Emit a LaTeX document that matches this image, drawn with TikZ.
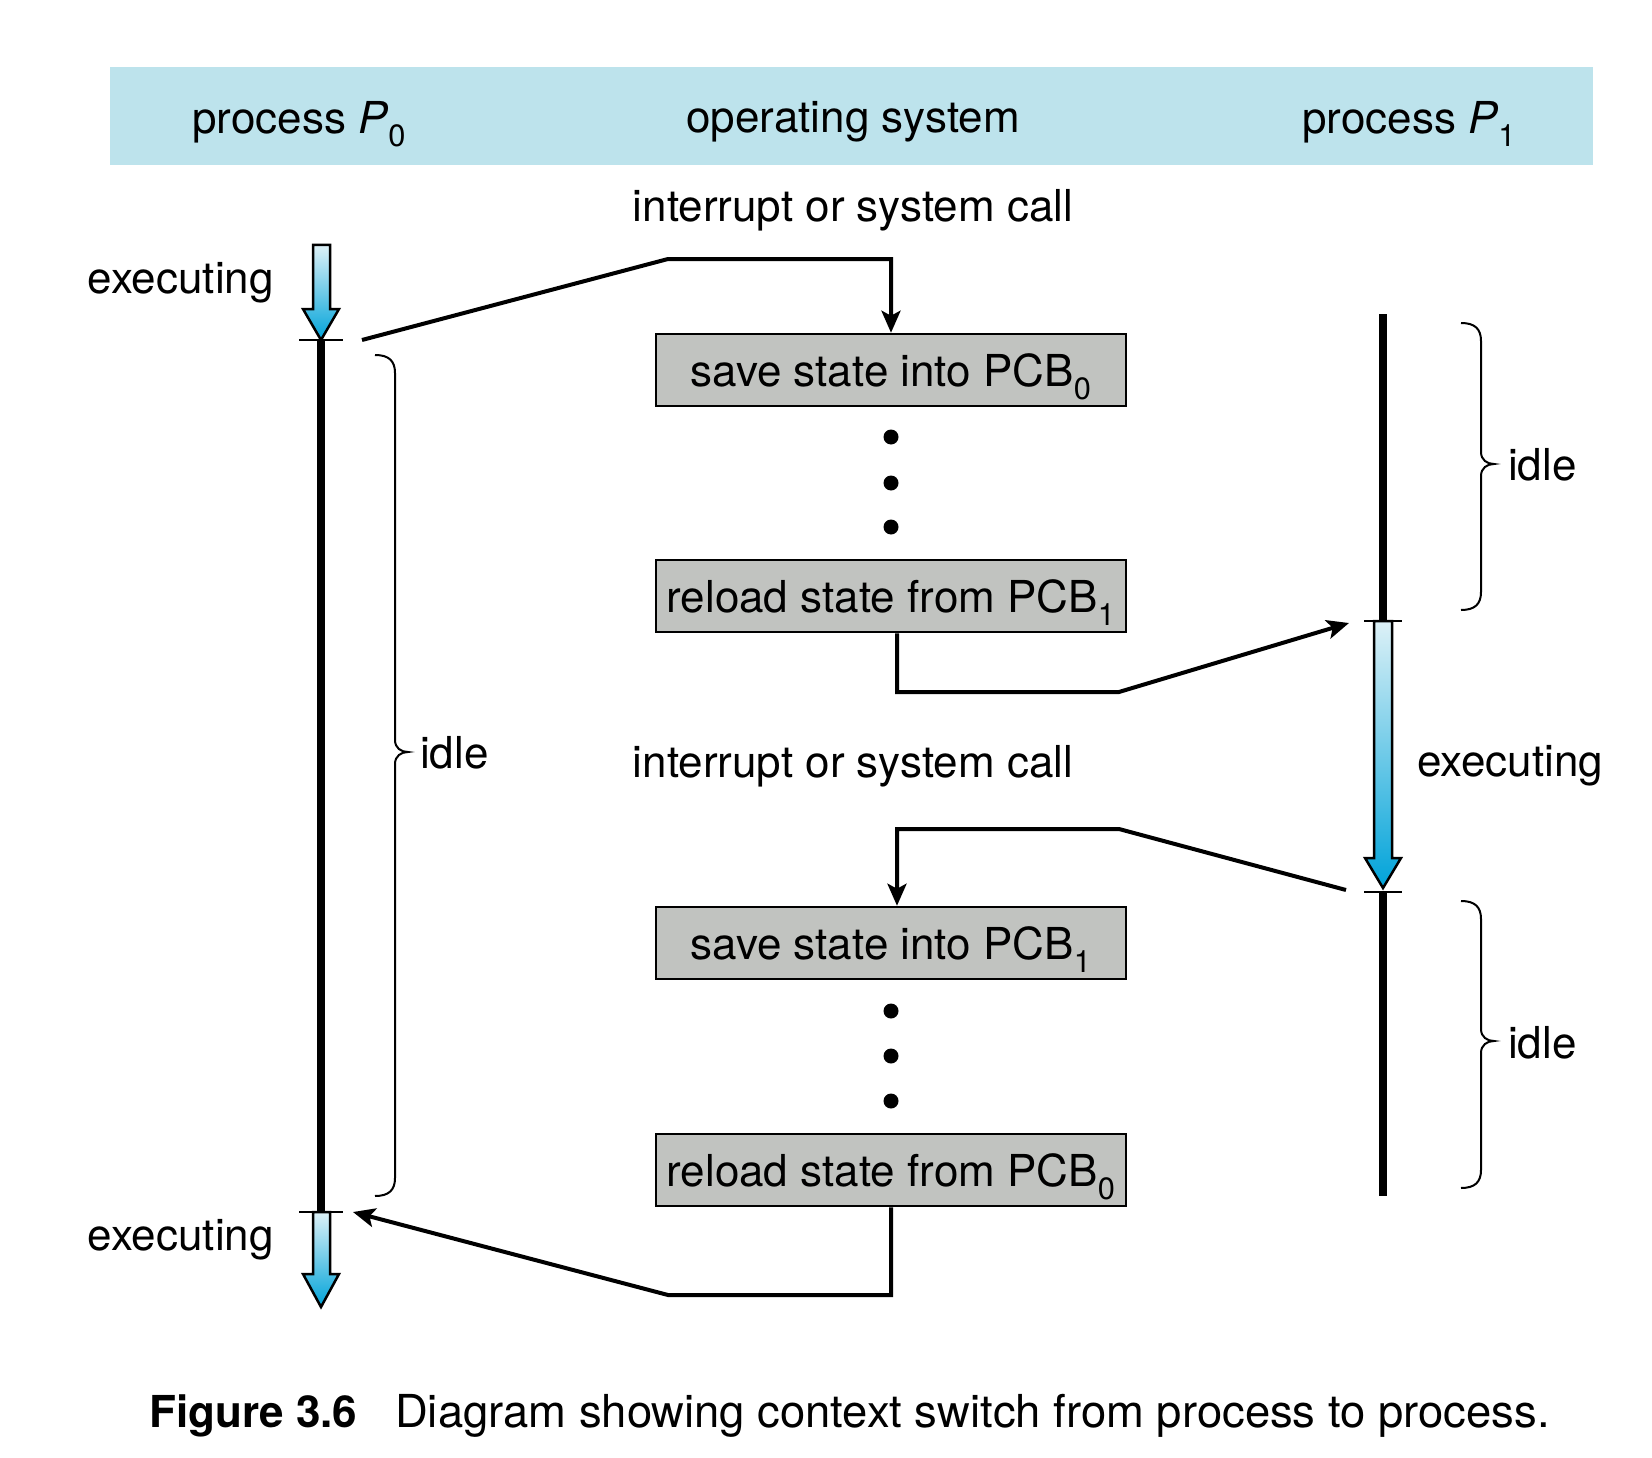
\documentclass[tikz,border=0pt]{standalone}
\usepackage{fontspec}
\setmainfont{TeX Gyre Heros}
\usetikzlibrary{arrows.meta}
\definecolor{hdr}{HTML}{BDE3EC}
\definecolor{boxg}{HTML}{C1C3C0}
\definecolor{blueL}{HTML}{DDF1F7}
\definecolor{blueD}{HTML}{00A3D9}
\newcommand{\mybrace}[5]{% x-end, x-line, ytop, ybottom, ytip ; tip at x-line+13
  \draw[brace] (#1,#3) .. controls (#2-6,#3) and (#2,#3+6) .. (#2,#3+18)
    -- (#2,#5-12) .. controls (#2,#5-4) and (#2+6,#5) .. (#2+13,#5)
    .. controls (#2+6,#5) and (#2,#5+4) .. (#2,#5+12)
    -- (#2,#4-18) .. controls (#2,#4-6) and (#2-6,#4) .. (#1,#4);}
\begin{document}
\begin{tikzpicture}[x=1pt,y=-1pt,
  font=\fontsize{44}{52}\selectfont,
  box/.style={draw, line width=2.5pt, fill=boxg, minimum width=470pt, minimum height=72pt, inner sep=0pt, text height=32pt, text depth=0pt},
  conn/.style={line width=4pt, -{Stealth[length=22pt,width=19pt,inset=5pt]}},
  bar/.style={line width=8pt},
  tickmark/.style={line width=2.5pt},
  brace/.style={line width=2pt},
  bluearrow/.style={draw, line width=2.5pt, top color=blueL, bottom color=blueD, line join=miter},
  lbl/.style={inner sep=0pt}]
\useasboundingbox (0,0) rectangle (1652,1458);
% header
\fill[hdr] (110,67) rectangle (1593,165);
\node[lbl, anchor=west] (h0) at (192,124) {process \textit{P}\textsubscript{0}};
\node[lbl, anchor=west] (hos) at (686,122) {operating system};
\node[lbl, anchor=west] (h1) at (1302,124) {process \textit{P}\textsubscript{1}};
% texts
\node[lbl] (irq1) at (853,210) {interrupt or system call};
\node[lbl] (irq2) at (853,766) {interrupt or system call};
\node[lbl, anchor=east] (ex1) at (274,283) {executing};
\node[lbl, anchor=east] (ex2) at (274,1240) {executing};
\node[lbl, anchor=west] (ex3) at (1417,766) {executing};
\node[lbl, anchor=west] (idle0) at (420,753) {idle};
\node[lbl, anchor=west] (idle1) at (1508,465) {idle};
\node[lbl, anchor=west] (idle2) at (1508,1043) {idle};
% boxes
\node[box] (s0) at (891,370) {save state into PCB\textsubscript{0}};
\node[box] (r1) at (891,596) {reload state from PCB\textsubscript{1}};
\node[box] (s1) at (891,943) {save state into PCB\textsubscript{1}};
\node[box] (r0) at (891,1170) {reload state from PCB\textsubscript{0}};
% dots
\foreach \y in {437,483,527,1011,1056,1101} \fill (891,\y) circle (7.5pt);
% P0 timeline
\draw[bar] (321,340) -- (321,1212);
\draw[bluearrow] (313,245) -- (330,245) -- (330,309) -- (339,309) -- (321,340) -- (303,309) -- (313,309) -- cycle;
\draw[bluearrow] (313,1212) -- (330,1212) -- (330,1274) -- (339,1274) -- (321,1307) -- (303,1274) -- (313,1274) -- cycle;
\draw[tickmark] (299,340) -- (343,340);
\draw[tickmark] (299,1212) -- (343,1212);
% P1 timeline
\draw[bar] (1383,314) -- (1383,621);
\draw[bar] (1383,892) -- (1383,1196);
\draw[bluearrow] (1374,621) -- (1392,621) -- (1392,858) -- (1401,858) -- (1383,888) -- (1365,858) -- (1374,858) -- cycle;
\draw[tickmark] (1364,621) -- (1402,621);
\draw[tickmark] (1364,892) -- (1402,892);
% braces
\mybrace{375}{395}{355}{1196}{752}
\mybrace{1461}{1481}{323}{610}{464}
\mybrace{1461}{1481}{901}{1188}{1041}
% connectors
\coordinate (p0out) at (362,340);
\coordinate (k1) at (668,259);
\coordinate (p1in) at (1349,623);
\coordinate (k2) at (1119,692);
\coordinate (p1out) at (1346,890);
\coordinate (k3) at (1119,829);
\coordinate (p0in) at (353,1212);
\coordinate (k4) at (668,1295);
\draw[conn] (p0out) -- (k1) -| (s0.north);
\draw[conn] ([xshift=6pt]r1.south) |- (k2) -- (p1in);
\draw[conn] (p1out) -- (k3) -| ([xshift=6pt]s1.north);
\draw[conn] (r0.south) |- (k4) -- (p0in);
% caption
\node[lbl, anchor=west] (cap1) at (149,1416) {\textbf{Figure 3.6}};
\node[lbl, anchor=west, font=\fontsize{45.4}{52}\selectfont] (cap2) at (395,1416) {Diagram showing context switch from process to process.};
\end{tikzpicture}
\end{document}
